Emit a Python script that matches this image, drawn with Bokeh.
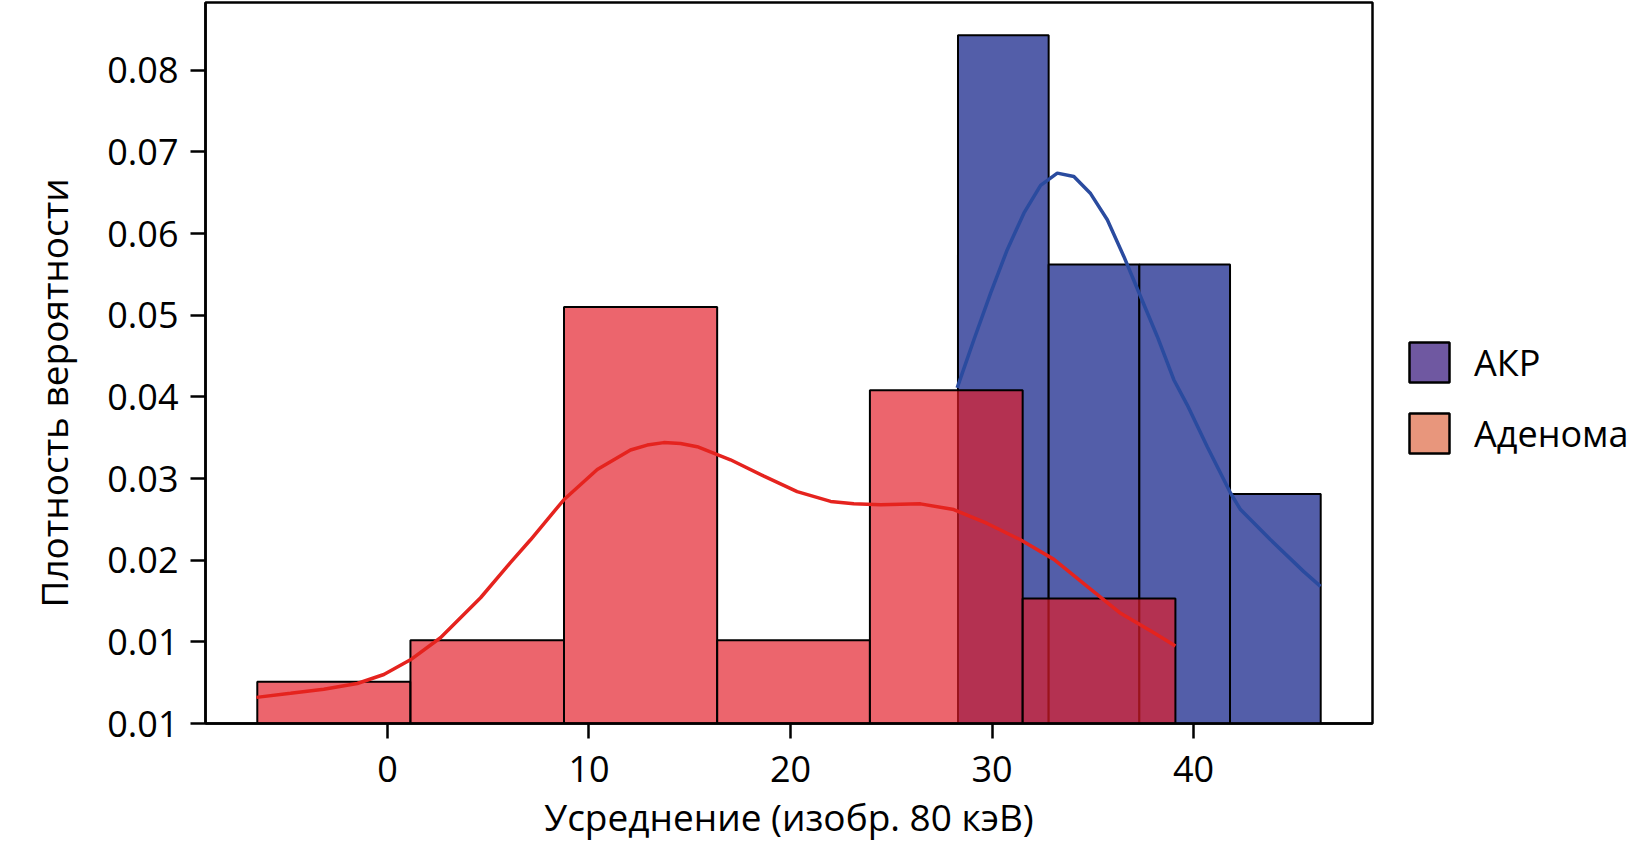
from bokeh.plotting import figure
from bokeh.models import Range1d, FixedTicker, Legend, LegendItem, CustomJSTickFormatter, Title
from bokeh.embed import file_html
from bokeh.resources import INLINE

# ---------------- data ----------------
adenoma_edges = [-6.46, 1.14, 8.76, 16.36, 23.94, 31.52, 39.10]
adenoma_density = [0.0051, 0.0102, 0.0510, 0.0102, 0.0408, 0.0153]

akr_edges = [28.31, 32.81, 37.31, 41.81, 46.31]
akr_density = [0.0843, 0.0562, 0.0562, 0.0281]

adenoma_kde_x = [-6.50, -4.81, -3.16, -1.50, -0.18, 1.14, 2.63, 4.62, 6.10, 7.10,
                 8.75, 10.41, 12.06, 12.89, 13.71, 14.54, 15.37, 17.02, 18.68, 20.33,
                 21.99, 23.14, 24.47, 26.45, 28.10, 29.76, 31.41, 33.07, 34.72, 36.38,
                 38.03, 39.10]
adenoma_kde_y = [0.0032, 0.0037, 0.0042, 0.0049, 0.0060, 0.0078, 0.0105, 0.0154, 0.0197,
                 0.0225, 0.0274, 0.0311, 0.0335, 0.0341, 0.0344, 0.0343, 0.0339, 0.0323,
                 0.0303, 0.0284, 0.0272, 0.0269, 0.0268, 0.0269, 0.0262, 0.0245, 0.0225,
                 0.0201, 0.0168, 0.0135, 0.0111, 0.0095]

akr_kde_x = [28.27, 29.10, 29.93, 30.75, 31.58, 32.41, 33.24, 34.06, 34.89, 35.72,
             36.54, 37.37, 38.20, 39.02, 39.69, 40.68, 41.84, 42.33, 43.82, 45.47, 46.30]
akr_kde_y = [0.0411, 0.0470, 0.0527, 0.0580, 0.0625, 0.0659, 0.0674, 0.0670, 0.0649,
             0.0617, 0.0572, 0.0523, 0.0474, 0.0421, 0.0390, 0.0339, 0.0282, 0.0262,
             0.0225, 0.0186, 0.0168]

series_names = ["АКР", "Аденома"]
legend_colors = ["#6f58a1", "#e8967c"]

x_ticks = [0, 10, 20, 30, 40]
x_tick_labels = ["0", "10", "20", "30", "40"]
y_ticks = [0.0, 0.01, 0.02, 0.03, 0.04, 0.05, 0.06, 0.07, 0.08]
y_tick_labels = ["0.01", "0.01", "0.02", "0.03", "0.04", "0.05", "0.06", "0.07", "0.08"]

x_label = "Усреднение (изобр. 80 кэВ)"
y_label = "Плотность вероятности"

FONT = "Open Sans"
NAN = float("nan")

# ---------------- figure ----------------
p = figure(frame_width=1167, frame_height=721,
           min_border_left=201, min_border_right=246, min_border_top=2, min_border_bottom=108,
           x_range=Range1d(-9.03, 48.88), y_range=Range1d(0, 0.0883),
           output_backend="svg", toolbar_location=None)

p.grid.visible = False
p.outline_line_color = "black"
p.outline_line_width = 2.5
p.outline_line_alpha = 1
p.background_fill_color = "white"
p.border_fill_color = "white"

# AKR histogram (blue)
p.quad(left=akr_edges[:-1], right=akr_edges[1:], bottom=0, top=akr_density,
       fill_color="#535ea9", fill_alpha=1.0, line_color="black", line_width=2)
p.line(akr_kde_x, akr_kde_y, line_color="#2a4b9f", line_width=3.5)

# Adenoma histogram (red, semi-transparent)
p.quad(left=adenoma_edges[:-1], right=adenoma_edges[1:], bottom=0, top=adenoma_density,
       fill_color="#e31c28", fill_alpha=0.68, line_color="black", line_width=2)
p.line(adenoma_kde_x, adenoma_kde_y, line_color="#e5231e", line_width=3.5)

# legend swatches (renderers without visible data)
leg_r1 = p.quad(left=[NAN], right=[NAN], top=[NAN], bottom=[NAN], fill_color=legend_colors[0],
                line_color="black", line_width=2.5)
leg_r2 = p.quad(left=[NAN], right=[NAN], top=[NAN], bottom=[NAN], fill_color=legend_colors[1],
                line_color="black", line_width=2.5)
legend = Legend(items=[LegendItem(label=series_names[0], renderers=[leg_r1]),
                       LegendItem(label=series_names[1], renderers=[leg_r2])],
                location=(32, 265), glyph_width=50, glyph_height=50, label_height=40,
                spacing=21, label_standoff=20, padding=0, margin=0,
                border_line_color=None, background_fill_alpha=0,
                label_text_font=FONT, label_text_font_size="36px", label_text_color="black")
p.add_layout(legend, "right")

# axes
p.xaxis.ticker = FixedTicker(ticks=x_ticks)
p.xaxis.formatter = CustomJSTickFormatter(args=dict(labs=x_tick_labels, tvals=x_ticks),
                                          code="const i = tvals.indexOf(tick); return i >= 0 ? labs[i] : '';")
p.yaxis.ticker = FixedTicker(ticks=y_ticks)
p.yaxis.formatter = CustomJSTickFormatter(args=dict(labs=y_tick_labels, tvals=y_ticks),
                                          code="let b = 0; for (let i = 0; i < tvals.length; i++) { if (Math.abs(tvals[i]-tick) < Math.abs(tvals[b]-tick)) b = i; } return labs[b];")

for ax in (p.xaxis[0], p.yaxis[0]):
    ax.axis_line_color = "black"
    ax.axis_line_width = 2.5
    ax.major_tick_line_color = "black"
    ax.major_tick_line_width = 2.5
    ax.major_tick_out = 15
    ax.major_tick_in = 0
    ax.minor_tick_line_color = None
    ax.major_label_text_font = FONT
    ax.major_label_text_font_size = "36px"
    ax.major_label_text_color = "black"
    ax.axis_label_text_font = FONT
    ax.axis_label_text_font_size = "37px"
    ax.axis_label_text_font_style = "normal"
    ax.axis_label_text_color = "black"

p.xaxis.axis_label = x_label
p.xaxis.major_label_standoff = 17
p.xaxis.axis_label_standoff = 6
p.yaxis.major_label_standoff = 12

# y-axis label as a left title (sits slightly below the frame centre, as in the reference)
ytitle = Title(text=y_label, align="left", offset=116, standoff=51,
               text_font=FONT, text_font_size="37px", text_font_style="normal", text_color="black")
p.add_layout(ytitle, "left")

open("out.html", "w").write(file_html(p, INLINE))
